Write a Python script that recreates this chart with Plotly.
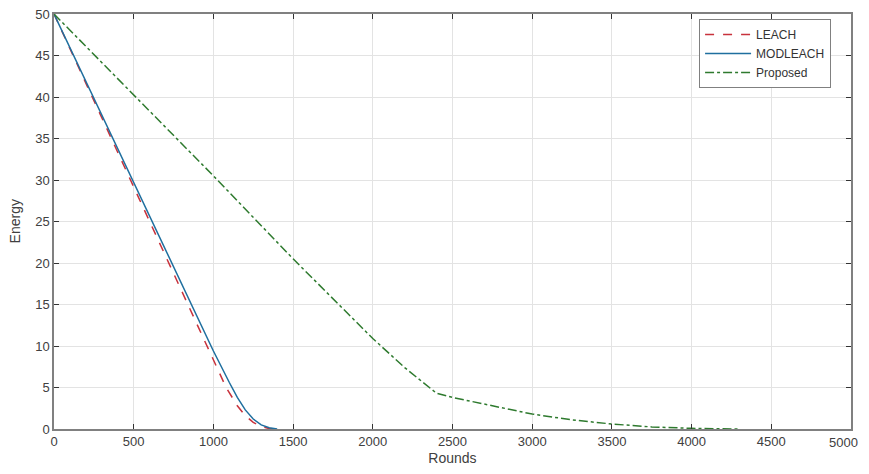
import plotly.graph_objects as go

# LEACH
leach_rounds = [0, 250, 500, 750, 1000, 1080, 1150, 1200, 1250, 1300, 1350, 1380]
leach_energy = [50, 39.6, 29.1, 18.7, 8.3, 5.0, 2.8, 1.6, 0.8, 0.3, 0.05, 0]
# MODLEACH
mod_rounds = [0, 250, 500, 750, 1000, 1100, 1150, 1200, 1250, 1300, 1350, 1400]
mod_energy = [50, 39.8, 29.7, 19.5, 9.4, 5.6, 3.8, 2.3, 1.2, 0.5, 0.15, 0]
# Proposed
prop_rounds = [0, 500, 1000, 1500, 2000, 2200, 2400, 2500, 2750, 3000, 3250, 3500, 3750, 4000, 4300]
prop_energy = [50, 40.3, 30.5, 20.5, 10.9, 7.4, 4.3, 3.8, 2.8, 1.8, 1.1, 0.6, 0.25, 0.08, 0]

x_ticks = list(range(0, 5001, 500))
x_ticktext = [str(v) for v in x_ticks[:-1]] + [""]  # last label drawn separately so it is not cut at the edge
last_x_label = str(x_ticks[-1])
y_ticks = list(range(0, 51, 5))

FONT = "Liberation Sans, Arial"

fig = go.Figure()
fig.add_trace(go.Scatter(x=leach_rounds, y=leach_energy, mode="lines", name="LEACH",
                         line=dict(color="#c8323c", dash="dash", width=1.5)))
fig.add_trace(go.Scatter(x=mod_rounds, y=mod_energy, mode="lines", name="MODLEACH",
                         line=dict(color="#1f6f9f", dash="solid", width=1.5)))
fig.add_trace(go.Scatter(x=prop_rounds, y=prop_energy, mode="lines", name="Proposed",
                         line=dict(color="#2e7a2e", dash="dashdot", width=1.5)))

axis_common = dict(showgrid=True, gridcolor="#e3e3e3", gridwidth=1,
                   showline=True, linecolor="#808080", linewidth=1.5, mirror="ticks",
                   ticks="inside", ticklen=5, tickcolor="#333333", tickwidth=1,
                   zeroline=False, automargin=False, ticklabeloverflow="allow",
                   tickfont=dict(family=FONT, size=13, color="#404040"),
                   title_font=dict(family=FONT, size=14, color="#404040"))

fig.update_xaxes(range=[0, 5000], tickvals=x_ticks, ticktext=x_ticktext,
                 title_text="Rounds", title_standoff=7, **axis_common)
fig.update_yaxes(range=[0, 50], tickvals=y_ticks, **axis_common)

fig.add_annotation(text=last_x_label, xref="x", yref="paper", x=x_ticks[-1], y=0,
                   xanchor="right", yanchor="top", xshift=9, yshift=-4, showarrow=False,
                   font=dict(family=FONT, size=13, color="#404040"))

fig.add_annotation(text="Energy", xref="paper", yref="paper", x=-0.049, y=0.5,
                   xanchor="center", yanchor="middle", textangle=-90, showarrow=False,
                   font=dict(family=FONT, size=14, color="#404040"))

# page body has an 8px margin: size the figure so the page does not overflow the 869x474 window
fig.update_layout(
    width=861, height=458,
    margin=dict(l=46, r=18, t=6, b=37),
    plot_bgcolor="white", paper_bgcolor="white",
    showlegend=True,
    legend=dict(x=0.975, y=0.988, xanchor="right", yanchor="top",
                bgcolor="white", bordercolor="#808080", borderwidth=1,
                font=dict(family=FONT, size=12, color="#333333"),
                tracegroupgap=0, itemwidth=46),
)

fig.write_html("out.html")
